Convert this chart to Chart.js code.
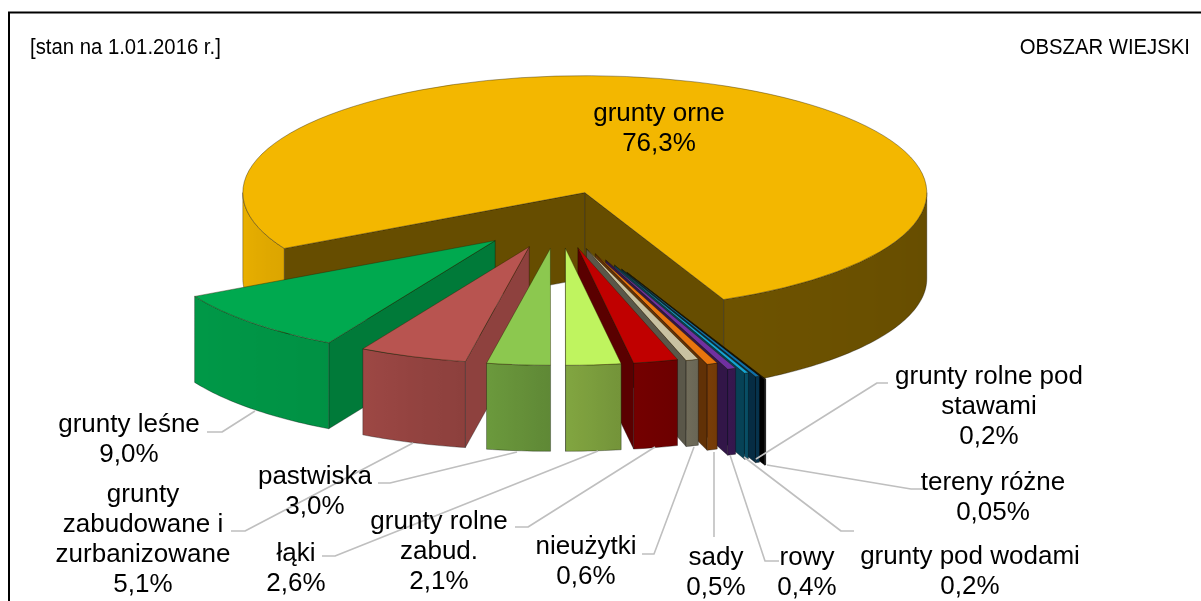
<!DOCTYPE html>
<html lang="pl">
<head>
<meta charset="utf-8">
<title>Struktura gruntów</title>
<style>html,body{margin:0;padding:0;background:#fff}canvas{display:block}</style>
<script src="https://cdn.jsdelivr.net/npm/chart.js@4/dist/chart.umd.js"></script>
</head>
<body>
<canvas id="c" width="1201" height="601"></canvas>
<script>
// ---- data (in drawing order, clockwise) ----
const categories = ['grunty orne','tereny różne','grunty rolne pod stawami','grunty pod wodami','rowy','sady','nieużytki','grunty rolne zabud.','łąki','pastwiska','grunty zabudowane i zurbanizowane','grunty leśne'];
const shares = [76.3,0.05,0.2,0.2,0.4,0.5,0.6,2.1,2.6,3.0,5.1,9.0];
const shareLabels = ['76,3%','0,05%','0,2%','0,2%','0,4%','0,5%','0,6%','2,1%','2,6%','3,0%','5,1%','9,0%'];
const explode = [0.24,0.495,0.465,0.425,0.375,0.315,0.265,0.25,0.25,0.25,0.25,0.26];
const colors = ['#F3B700','#000000','#0F6FA8','#12A5D6','#7030A0','#E8750E','#C9C2A2','#C00000','#BFF45F','#8CC84F','#B85450','#00A94F'];
const sideShade = [0.42,1,0.40,0.40,0.45,0.42,0.45,0.47,0.60,0.70,0.77,0.72];
const title = '[stan na 1.01.2016 r.]';
const region = 'OBSZAR WIEJSKI';

// ---- layout ----
const RADIUS = 342, TILT = 0.342, DEPTH = 86, CX = 558.4, CY = 219.2, ROTATION = 241.5;
const labelLines = [
 ['grunty orne'],[ 'tereny różne'],['grunty rolne pod','stawami'],['grunty pod wodami'],['rowy'],['sady'],['nieużytki'],
 ['grunty rolne','zabud.'],['łąki'],['pastwiska'],['grunty','zabudowane i','zurbanizowane'],['grunty leśne']
];
const labelAnchors = [[659,113],[993,482],[989,376],[970,556],[807,557],[716,557],[586,546],[439,521],[296,553],[315,476],[143,494],[129,424]];
const leaders = [
 null,
 [[923,489],[911,489],[767,465]],
 [[888,383],[877,383],[756,459]],
 [[854,531],[841,531],[744,457]],
 [[779,561],[765,561],[730,455]],
 [[714,537],[714,452]],
 [[642,554],[654,554],[694,447]],
 [[515,527],[528,527],[655,447]],
 [[322,556],[335,556],[598,451]],
 [[378,483],[390,483],[517,452]],
 [[231,531],[245,531],[413,443]],
 [[207,432],[222,432],[255,411]]
];
const LINE_H = 30;
const shadeTable = [[0,.42],[66,.45],[74,.57],[80,.6],[90,.68],[100,.76],[110,.80],[120,.86],[135,.88],[150,.90],[180,.97]];

function shadeAt(deg){
  for(let i=1;i<shadeTable.length;i++){
    if(deg<=shadeTable[i][0]){
      const a=shadeTable[i-1], b=shadeTable[i];
      return a[1]+(b[1]-a[1])*(deg-a[0])/(b[0]-a[0]);
    }
  }
  return .97;
}
function shade(hex,f){
  const n=parseInt(hex.slice(1),16);
  return `rgb(${Math.round((n>>16&255)*f)},${Math.round((n>>8&255)*f)},${Math.round((n&255)*f)})`;
}

const pie3d = {
  id:'pie3d',
  beforeDatasetsDraw(chart){
    const ctx = chart.ctx, arcs = chart.getDatasetMeta(0).data;
    const vertex = (arc,i)=>{
      const m=(arc.startAngle+arc.endAngle)/2, e=explode[i]*arc.outerRadius;
      return {x:CX+e*Math.cos(m), y:CY+e*Math.sin(m)*TILT};
    };
    const rim = (v,arc,a,d)=>[v.x+arc.outerRadius*Math.cos(a), v.y+arc.outerRadius*Math.sin(a)*TILT+d];
    const order = arcs.map((_,i)=>i).sort((p,q)=>{
      const s=i=>Math.sin((arcs[i].startAngle+arcs[i].endAngle)/2);
      return s(p)-s(q);
    });
    const edge = 'rgba(0,0,0,.45)';
    // walls, back to front
    order.forEach(i=>{
      const arc=arcs[i], v=vertex(arc,i), base=colors[i];
      const wall=(a)=>{
        const t=rim(v,arc,a,0), b=rim(v,arc,a,DEPTH);
        ctx.beginPath();ctx.moveTo(v.x,v.y);ctx.lineTo(t[0],t[1]);ctx.lineTo(b[0],b[1]);ctx.lineTo(v.x,v.y+DEPTH);ctx.closePath();
        ctx.fillStyle=shade(base,sideShade[i]);ctx.fill();
        ctx.lineWidth=.7;ctx.strokeStyle=edge;ctx.stroke();
      };
      if(Math.cos(arc.startAngle)<0) wall(arc.startAngle);
      if(Math.cos(arc.endAngle)>0) wall(arc.endAngle);
      // outer wall: only the parts facing the viewer
      [0,2*Math.PI].forEach(turn=>{
        const a0=Math.max(arc.startAngle,turn), a1=Math.min(arc.endAngle,turn+Math.PI);
        if(a1<=a0) return;
        const n=Math.max(2,Math.ceil((a1-a0)/(Math.PI/180)));
        const at=s=>a0+(a1-a0)*s/n;
        const x0=rim(v,arc,a0,0)[0], x1=rim(v,arc,a1,0)[0];
        const grad=ctx.createLinearGradient(x0,0,x1,0);
        for(let s=0;s<=n;s++){
          const r=rim(v,arc,at(s),0)[0];
          const off=Math.abs(x1-x0)<.01?s/n:Math.min(1,Math.max(0,(r-x0)/(x1-x0)));
          grad.addColorStop(off,shade(base,shadeAt((at(s)-turn)*180/Math.PI)));
        }
        ctx.beginPath();
        for(let s=0;s<=n;s++){const r=rim(v,arc,at(s),0);s?ctx.lineTo(r[0],r[1]):ctx.moveTo(r[0],r[1]);}
        for(let s=n;s>=0;s--){const r=rim(v,arc,at(s),DEPTH);ctx.lineTo(r[0],r[1]);}
        ctx.closePath();
        ctx.fillStyle=grad;ctx.fill();
        ctx.lineWidth=.7;ctx.strokeStyle=edge;ctx.stroke();
      });
    });
    // top faces: the library's own arc elements, seen at a tilt
    arcs.forEach((arc,i)=>{
      const v=vertex(arc,i);
      ctx.save();
      ctx.translate(v.x,v.y);ctx.scale(1,TILT);ctx.translate(-arc.x,-arc.y);
      arc.draw(ctx);
      ctx.restore();
    });
    return false;
  },
  afterDraw(chart){
    const ctx=chart.ctx;
    // frame
    ctx.strokeStyle='#000';ctx.lineWidth=2;
    ctx.beginPath();ctx.moveTo(9,610);ctx.lineTo(9,12.5);ctx.lineTo(1210,12.5);ctx.stroke();
    // leader lines
    ctx.strokeStyle='#BFBFBF';ctx.lineWidth=1.6;ctx.lineJoin='round';
    leaders.forEach(l=>{ if(!l) return;
      ctx.beginPath();l.forEach((p,k)=>k?ctx.lineTo(p[0],p[1]):ctx.moveTo(p[0],p[1]));ctx.stroke();
    });
    // labels
    ctx.fillStyle='#000';ctx.textBaseline='middle';ctx.textAlign='center';
    ctx.font='26px "Liberation Sans", Arial, sans-serif';
    categories.forEach((_,i)=>{
      const lines=[...labelLines[i],shareLabels[i]], [x,y]=labelAnchors[i];
      lines.forEach((t,k)=>ctx.fillText(t,x,y+1+k*LINE_H));
    });
    ctx.font='22px "Liberation Sans", Arial, sans-serif';
    const narrow=(t,x,align)=>{
      ctx.save();ctx.translate(x,48);ctx.scale(.923,1);ctx.textAlign=align;ctx.fillText(t,0,0);ctx.restore();
    };
    narrow(title,30,'left');
    narrow(region,1190,'right');
  }
};

new Chart(document.getElementById('c'),{
  type:'pie',
  data:{labels:categories,datasets:[{data:shares,backgroundColor:colors,borderColor:'rgba(40,30,0,.75)',borderWidth:.8,clip:false}]},
  options:{
    responsive:false,animation:false,rotation:ROTATION,radius:RADIUS,
    layout:{padding:0},
    plugins:{legend:{display:false},tooltip:{enabled:false}}
  },
  plugins:[pie3d]
});
</script>
</body>
</html>
